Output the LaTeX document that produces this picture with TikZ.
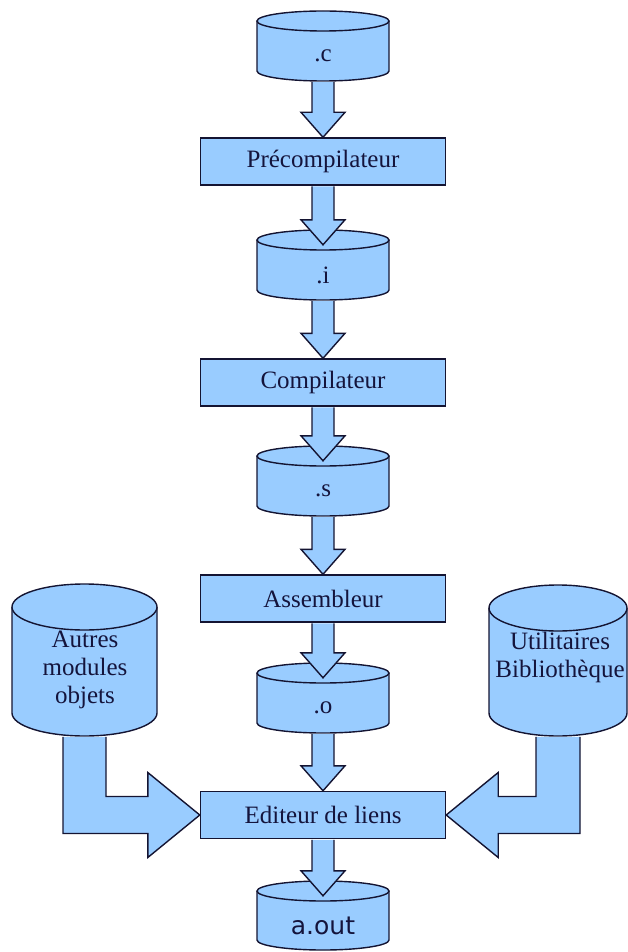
\documentclass[tikz,border=0pt]{standalone}
\usepackage{fontspec}
\setmainfont{Liberation Serif}
\newfontfamily\aoutfont{DejaVu Sans}
\usetikzlibrary{calc}
\definecolor{fillblue}{RGB}{153,204,255}
\definecolor{edgecol}{RGB}{20,20,50}
\definecolor{txtcol}{RGB}{20,20,60}
\tikzset{
  shapefill/.style={fill=fillblue, draw=edgecol, line width=1.4pt},
  procbox/.style={shapefill, rectangle, minimum width=245pt, minimum height=47pt, inner sep=0pt, text=txtcol, font=\fontsize{25}{28}\selectfont},
  cylbody/.style={rectangle, inner sep=0pt, text=txtcol, font=\fontsize{25}{28}\selectfont},
  cyltext/.style={text=txtcol, font=\fontsize{25}{28}\selectfont, align=center, inner sep=0pt},
  blockarrow/.style={shapefill, line join=miter},
}
% #1 name, #2 cx, #3 top ellipse centre y, #4 body height, #5 rx, #6 ry, #7 text
\newcommand\drawcyl[7]{%
  \filldraw[shapefill] (#2-#5,#3) -- (#2-#5,#3+#4)
    .. controls (#2-#5,#3+#4+0.5523*#6) and (#2-0.5523*#5,#3+#4+#6) .. (#2,#3+#4+#6)
    .. controls (#2+0.5523*#5,#3+#4+#6) and (#2+#5,#3+#4+0.5523*#6) .. (#2+#5,#3+#4)
    -- (#2+#5,#3);
  \filldraw[shapefill] (#2,#3) ellipse [x radius=#5pt, y radius=#6pt];
  \node[cylbody, minimum width=2*#5pt, minimum height=#4pt] (#1) at (#2,#3+#6+#4/2) {#7};
}
\newcommand\vblock[2]{%
  \filldraw[blockarrow] ($(#1)+(-11,0.7)$) -- ($(#2)+(-11,-25)$) -- ($(#2)+(-22,-25)$) -- (#2)
    -- ($(#2)+(22,-25)$) -- ($(#2)+(11,-25)$) -- ($(#1)+(11,0.7)$);
}
\begin{document}
\begin{tikzpicture}[x=1pt, y=-1pt]
\useasboundingbox (0,0) rectangle (628,952);

% central column
\drawcyl{c}{323}{21}{50}{66}{10}{.c}
\node[procbox] (pre) at (323,161.5) {Précompilateur};
\drawcyl{i}{323}{240}{50}{66}{10}{.i}
\node[procbox] (comp) at (323,382.5) {Compilateur};
\drawcyl{s}{323}{456}{50}{66}{10}{.s}
\node[procbox] (asm) at (323,598.5) {Assembleur};
\drawcyl{o}{323}{673}{50}{66}{10}{.o}
\node[procbox] (edit) at (323,815) {Editeur de liens};
\drawcyl{aout}{323}{891}{49}{66}{10}{\aoutfont a.out}

% side cylinders
\drawcyl{lib1}{84.5}{607}{106}{72.5}{23}{}
\node[cyltext] (lib1txt) at (85,670) {Autres\\modules\\objets};
\drawcyl{lib2}{558}{608}{105}{69}{23}{}
\node[cyltext] (lib2txt) at (560,657.5) {Utilitaires\\Bibliothèque};

% arrow tips inside cylinder tops
\coordinate (ti) at ([yshift=5pt]i.north);
\coordinate (ts) at ([yshift=5pt]s.north);
\coordinate (to) at ([yshift=5pt]o.north);
\coordinate (ta) at ([yshift=5pt]aout.north);

\vblock{c.south}{pre.north}
\vblock{pre.south}{ti}
\vblock{i.south}{comp.north}
\vblock{comp.south}{ts}
\vblock{s.south}{asm.north}
\vblock{asm.south}{to}
\vblock{o.south}{edit.north}
\vblock{edit.south}{ta}

% bent arrows
\coordinate (lc) at (lib1.south |- edit.west);
\coordinate (rc) at (lib2.south |- edit.east);
\filldraw[blockarrow] ($(lib1.south)+(-21.5,0.7)$) -- ($(lc)+(-21.5,18.5)$)
  -- ($(edit.west)+(-52,18.5)$) -- ($(edit.west)+(-52,42.5)$) -- (edit.west)
  -- ($(edit.west)+(-52,-42.5)$) -- ($(edit.west)+(-52,-18.5)$)
  -- ($(lc)+(21.5,-18.5)$) -- ($(lib1.south)+(21.5,0.7)$);
\filldraw[blockarrow] ($(lib2.south)+(22,0.7)$) -- ($(rc)+(22,18.5)$)
  -- ($(edit.east)+(52,18.5)$) -- ($(edit.east)+(52,42.5)$) -- (edit.east)
  -- ($(edit.east)+(52,-42.5)$) -- ($(edit.east)+(52,-18.5)$)
  -- ($(rc)+(-22,-18.5)$) -- ($(lib2.south)+(-22,0.7)$);
\end{tikzpicture}
\end{document}
